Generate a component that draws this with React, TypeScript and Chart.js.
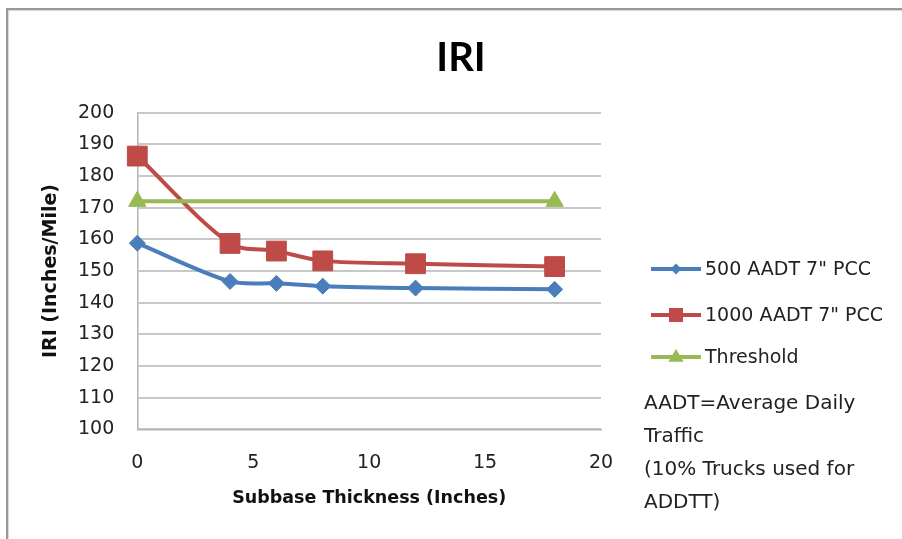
import React, { useEffect, useRef } from "react";
import { Chart, registerables } from "chart.js";

Chart.register(...registerables);

// ---- data ----
const thicknessInches = [0, 4, 6, 8, 12, 18];
const iri500 = [158.8, 146.7, 146.1, 145.2, 144.6, 144.2];
const iri1000 = [186.3, 158.7, 156.3, 153.2, 152.3, 151.4];
const thresholdX = [0, 18];
const thresholdIri = [172, 172];
const seriesLabels = ['500 AADT 7" PCC', '1000 AADT 7" PCC', "Threshold"];
const seriesColors = ["#4A7EBB", "#BE4B48", "#98B954"];
const noteLines = ["AADT=Average Daily", "Traffic", "(10% Trucks used for", "ADDTT)"];
const chartTitle = "IRI";
const xTitle = "Subbase Thickness (Inches)";
const yTitle = "IRI (Inches/Mile)";
const xMin = 0, xMax = 20, xStep = 5;
const yMin = 100, yMax = 200, yStep = 10;

const FONT = "'DejaVu Sans', sans-serif";

function drawMarker(ctx: CanvasRenderingContext2D, kind: string, x: number, y: number, r: number, color: string) {
  ctx.beginPath();
  if (kind === "diamond") {
    ctx.moveTo(x - r, y); ctx.lineTo(x, y - r); ctx.lineTo(x + r, y); ctx.lineTo(x, y + r);
  } else if (kind === "square") {
    ctx.rect(x - r, y - r, 2 * r, 2 * r);
  } else {
    ctx.moveTo(x, y - r); ctx.lineTo(x + r * 0.95, y + r * 0.6); ctx.lineTo(x - r * 0.95, y + r * 0.6);
  }
  ctx.closePath();
  ctx.fillStyle = color;
  ctx.fill();
}

const overlayPlugin = {
  id: "overlay",
  afterDraw(chart: any) {
    const ctx: CanvasRenderingContext2D = chart.ctx;
    ctx.save();
    // title
    ctx.fillStyle = "#000";
    ctx.font = "bold 40px Lato, sans-serif";
    ctx.textAlign = "center";
    ctx.textBaseline = "middle";
    ctx.fillText(chartTitle, 461, 58);
    // legend
    const kinds = ["diamond", "square", "triangle"];
    const sizes = [5.5, 7, 8];
    const ys = [269, 315, 357];
    ctx.textAlign = "left";
    ctx.font = `19px ${FONT}`;
    seriesLabels.forEach((lab, i) => {
      const y = ys[i];
      ctx.strokeStyle = seriesColors[i];
      ctx.lineWidth = 4;
      ctx.beginPath();
      ctx.moveTo(651, y);
      ctx.lineTo(701, y);
      ctx.stroke();
      drawMarker(ctx, kinds[i], 676, y, sizes[i], seriesColors[i]);
      ctx.fillStyle = "#222";
      ctx.fillText(lab, 705, y + 1);
    });
    // note
    ctx.font = `20px ${FONT}`;
    const noteYs = [404, 437, 470, 503];
    noteLines.forEach((t, i) => ctx.fillText(t, 644, noteYs[i]));
    ctx.restore();
  },
};

export default function App() {
  const ref = useRef<HTMLCanvasElement | null>(null);
  useEffect(() => {
    if (!ref.current) return;
    const mk = (i: number, xs: number[], ys: number[], style: string, radius: number, order: number) => ({
      label: seriesLabels[i],
      data: xs.map((x, k) => ({ x, y: ys[k] })),
      borderColor: seriesColors[i],
      backgroundColor: seriesColors[i],
      pointBackgroundColor: seriesColors[i],
      pointBorderColor: seriesColors[i],
      pointBorderWidth: 1,
      pointStyle: style,
      pointRadius: radius,
      borderWidth: 4,
      tension: 0.3,
      clip: false,
      order,
    });
    const chart = new Chart(ref.current, {
      type: "line",
      data: {
        datasets: [
          mk(0, thicknessInches, iri500, "rectRot", 8, 3),
          mk(1, thicknessInches, iri1000, "rect", 14, 2),
          mk(2, thresholdX, thresholdIri, "triangle", 10, 1),
        ] as any,
      },
      options: {
        responsive: false,
        animation: false,
        layout: { padding: { left: 0, top: 112.7, right: 301, bottom: 0 } },
        plugins: { legend: { display: false }, tooltip: { enabled: false }, title: { display: false } },
        scales: {
          x: {
            type: "linear",
            min: xMin,
            max: xMax,
            ticks: { stepSize: xStep, padding: 22, color: "#222", font: { family: FONT, size: 19 } },
            grid: { display: false, drawTicks: false },
            border: { display: true, color: "#b4b4b4", width: 1.5 },
            title: {
              display: true,
              text: xTitle,
              color: "#111",
              font: { family: FONT, size: 17.5, weight: "bold" },
              padding: { top: 0, bottom: 30 },
            },
            afterFit: (s: any) => { s.height = 539 - 429.3; },
          },
          y: {
            type: "linear",
            min: yMin,
            max: yMax,
            ticks: { stepSize: yStep, padding: 23, color: "#222", font: { family: FONT, size: 19 } },
            grid: { color: "#c8c8c8", lineWidth: 2, drawTicks: false },
            border: { display: true, color: "#b4b4b4", width: 1.5 },
            title: {
              display: true,
              text: yTitle,
              color: "#111",
              font: { family: FONT, size: 19, weight: "bold" },
              padding: { top: 40, bottom: 0 },
            },
            afterFit: (s: any) => { s.width = 137.3; },
          },
        },
      } as any,
      plugins: [overlayPlugin],
    });
    return () => chart.destroy();
  }, []);

  return (
    <div style={{ position: "absolute", left: 0, top: 0, width: 902, height: 539, background: "#fff", overflow: "hidden" }}>
      <div
        style={{
          position: "absolute",
          left: 6,
          top: 8,
          width: 902,
          height: 560,
          borderLeft: "2px solid #999",
          borderTop: "2px solid #999",
          boxShadow: "1px 1px 1px #d8d8d8 inset",
        }}
      />
      <canvas ref={ref} width={902} height={539} style={{ position: "absolute", left: 0, top: 0 }} />
    </div>
  );
}
